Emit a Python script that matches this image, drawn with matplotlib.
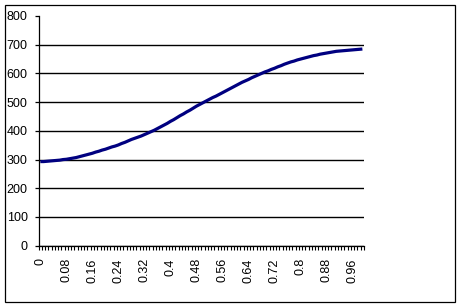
import numpy as np
import matplotlib
matplotlib.use('Agg')
import matplotlib.pyplot as plt
from matplotlib.patches import Rectangle

# category axis: 0, 0.01, ... 0.99
categories = np.round(np.arange(100) * 0.01, 2)

# values
values = [293, 293, 294, 295, 296, 297, 298, 300, 301, 303,
          305, 307, 310, 313, 316, 319, 322, 326, 329, 333,
          336, 340, 344, 347, 351, 356, 360, 365, 370, 374,
          378, 382, 387, 392, 397, 402, 408, 414, 420, 426,
          433, 439, 446, 453, 459, 466, 472, 479, 486, 492,
          498, 504, 510, 516, 521, 527, 533, 539, 545, 551,
          557, 563, 569, 574, 579, 585, 590, 595, 600, 605,
          609, 614, 618, 623, 627, 632, 636, 640, 643, 647,
          650, 653, 656, 659, 662, 664, 667, 669, 671, 673,
          675, 677, 678, 679, 680, 681, 682, 683, 684, 685]

y_ticks = [0, 100, 200, 300, 400, 500, 600, 700, 800]
label_every = 8

plt.rcParams['font.family'] = ['Liberation Sans', 'DejaVu Sans']

fig = plt.figure(figsize=(4.62, 3.08), dpi=100)
fig.patch.set_facecolor('white')

# outer chart border
fig.patches.append(Rectangle((5 / 462, 6 / 308), 450 / 462, 297 / 308,
                             transform=fig.transFigure, fill=False,
                             edgecolor='black', linewidth=0.9))

ax = fig.add_axes([38.7 / 462, (308 - 245.7) / 308, (364 - 38.7) / 462, 229.7 / 308])

pos = np.arange(len(categories))
ax.plot(pos, values, color='#000080', linewidth=2.3, solid_capstyle='butt')

ax.set_xlim(-0.5, len(categories) - 0.5)
ax.set_ylim(0, 800)

# y axis
ax.set_yticks(y_ticks)
ax.set_yticklabels([str(v) for v in y_ticks])
ax.yaxis.grid(True, color='black', linewidth=1)
ax.get_ygridlines()[-1].set_visible(False)
ax.tick_params(axis='y', direction='out', length=3, width=0.9, pad=5, labelsize=9)

# x axis: tick marks between categories, labels every 8th category
ax.set_xticks(np.arange(len(categories) + 1) - 0.5, minor=True)
ax.set_xticks(pos[::label_every])
ax.set_xticklabels(['%g' % c for c in categories[::label_every]], rotation=90, va='top')
ax.tick_params(axis='x', which='major', length=0, pad=9, labelsize=9)
ax.tick_params(axis='x', which='minor', direction='out', length=3, width=0.8)

for s in ['top', 'right']:
    ax.spines[s].set_visible(False)
ax.spines['left'].set_linewidth(0.9)
ax.spines['bottom'].set_linewidth(0.9)
ax.set_axisbelow(True)

fig.savefig('out.png', dpi=100)
